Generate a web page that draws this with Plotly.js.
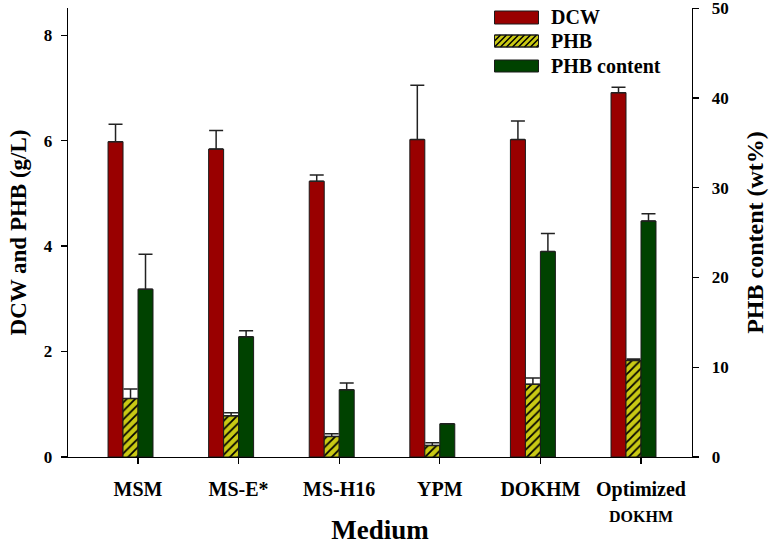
<!DOCTYPE html>
<html>
<head>
<meta charset="utf-8">
<script src="https://cdn.plot.ly/plotly-3.0.1.min.js"></script>
<style>
  html, body { margin: 0; padding: 0; background: #fff; }
  #chart { width: 772px; height: 545px; }
</style>
</head>
<body>
<div id="chart"></div>
<script>
// Culture media compared
const categories = ['MSM', 'MS-E*', 'MS-H16', 'YPM', 'DOKHM',
  'Optimized<br><span style="font-size:16px">DOKHM</span>'];

// Dry cell weight (g/L) and upper error
const dcw    = [5.98, 5.84, 5.23, 6.02, 6.02, 6.91];
const dcwErr = [0.33, 0.35, 0.12, 1.03, 0.35, 0.10];

// PHB concentration (g/L) and upper error
const phb    = [1.11, 0.78, 0.39, 0.22, 1.38, 1.83];
const phbErr = [0.18, 0.06, 0.05, 0.05, 0.12, 0.03];

// PHB content (wt%) and upper error
const content    = [18.7, 13.4, 7.5, 3.7, 22.9, 26.3];
const contentErr = [3.9, 0.67, 0.75, 0, 2.0, 0.8];

const leftTicks  = [0, 2, 4, 6, 8];
const rightTicks = [0, 10, 20, 30, 40, 50];

const FONT = 'Liberation Serif, Times New Roman, serif';
const RED = '#990000';
const OLIVE = '#c9c914';
const GREEN = '#004200';

// plot area in pixels
const M = { l: 68, r: 80, t: 8, b: 88 };
const W = 772 - M.l - M.r, H = 545 - M.t - M.b;
const px = x => (x - M.l) / W;
const py = y => (545 - M.b - y) / H;

const barW = 0.149;
const outline = { color: '#1a1a1a', width: 1 };
const err = (arr) => ({
  type: 'data', symmetric: false, array: arr,
  arrayminus: arr.map(() => 0),
  color: '#222', thickness: 1.5, width: 7
});

const traces = [
  {
    type: 'bar', name: 'DCW', x: categories, y: dcw,
    width: barW, offset: -2 * barW,
    marker: { color: RED, line: outline },
    error_y: err(dcwErr), yaxis: 'y', showlegend: false
  },
  {
    type: 'bar', name: 'PHB', x: categories, y: phb,
    width: barW, offset: -barW,
    marker: {
      color: OLIVE, line: outline,
      pattern: { shape: '/', fgcolor: '#000', bgcolor: OLIVE, size: 6, solidity: 0.3 }
    },
    error_y: err(phbErr), yaxis: 'y', showlegend: false
  },
  {
    type: 'bar', name: 'PHB content', x: categories, y: content,
    width: barW, offset: 0,
    marker: { color: GREEN, line: outline },
    error_y: err(contentErr), yaxis: 'y2', showlegend: false
  }
];

// Legend drawn as boxes + labels
const legendRows = [
  { label: 'DCW', color: RED, top: 11, bottom: 24 },
  { label: 'PHB', color: OLIVE, top: 35, bottom: 47, hatch: true },
  { label: 'PHB content', color: GREEN, top: 60, bottom: 72 }
];
const boxX0 = 494.5, boxX1 = 538.5;
const shapes = [];
const annotations = [];
legendRows.forEach(r => {
  shapes.push({
    type: 'rect', xref: 'paper', yref: 'paper',
    x0: px(boxX0), x1: px(boxX1), y0: py(r.bottom), y1: py(r.top),
    fillcolor: r.color, line: { color: '#1a1a1a', width: 1 }, layer: 'above'
  });
  if (r.hatch) {
    const w = boxX1 - boxX0, h = r.bottom - r.top;
    let d = '';
    for (let k = -h; k < w; k += 6) {
      const t0 = Math.max(0, -k), t1 = Math.min(h, w - k);
      if (t1 <= t0) continue;
      const xa = boxX0 + k + t0, ya = r.bottom - t0;
      const xb = boxX0 + k + t1, yb = r.bottom - t1;
      d += `M${px(xa)},${py(ya)}L${px(xb)},${py(yb)}`;
    }
    shapes.push({
      type: 'path', xref: 'paper', yref: 'paper', path: d,
      line: { color: '#000', width: 1.5 }, layer: 'above'
    });
    shapes.push({
      type: 'rect', xref: 'paper', yref: 'paper',
      x0: px(boxX0), x1: px(boxX1), y0: py(r.bottom), y1: py(r.top),
      fillcolor: 'rgba(0,0,0,0)', line: { color: '#1a1a1a', width: 1 }, layer: 'above'
    });
  }
  annotations.push({
    xref: 'paper', yref: 'paper', x: px(549), y: py((r.top + r.bottom) / 2),
    xanchor: 'left', yanchor: 'middle', showarrow: false,
    text: r.label, font: { family: FONT, size: 20, color: '#000', weight: 'bold' }
  });
});

const layout = {
  width: 772, height: 545,
  margin: M,
  paper_bgcolor: '#fff', plot_bgcolor: '#fff',
  font: { family: FONT, color: '#000' },
  showlegend: false,
  bargap: 0,
  xaxis: {
    type: 'category',
    range: [-0.696, 5.507],
    showline: true, linecolor: '#000', linewidth: 1.3,
    ticks: 'outside', ticklen: 6, tickwidth: 1.3, tickcolor: '#000',
    ticklabelstandoff: 8,
    tickfont: { family: FONT, size: 20, weight: 'bold', color: '#000' },
    showgrid: false, zeroline: false, automargin: false,
    title: { text: 'Medium', standoff: 8, font: { family: FONT, size: 27, weight: 'bold', color: '#000' } }
  },
  yaxis: {
    range: [0, 8.515],
    tickvals: leftTicks, ticktext: leftTicks.map(String),
    showline: true, linecolor: '#000', linewidth: 1.3,
    ticks: 'outside', ticklen: 6, tickwidth: 1.3, tickcolor: '#000',
    ticklabelstandoff: 5, ticklabeloverflow: 'allow',
    tickfont: { family: FONT, size: 17, weight: 'bold', color: '#000' },
    showgrid: false, zeroline: false, automargin: false,
    title: { text: 'DCW and PHB (g/L)', standoff: 10, font: { family: FONT, size: 23, weight: 'bold', color: '#000' } }
  },
  yaxis2: {
    overlaying: 'y', side: 'right', anchor: 'x',
    range: [0, 50.03],
    tickvals: rightTicks, ticktext: rightTicks.map(String),
    showline: true, linecolor: '#000', linewidth: 1.3,
    ticks: 'outside', ticklen: 6, tickwidth: 1.3, tickcolor: '#000',
    ticklabelstandoff: 9, ticklabeloverflow: 'allow',
    tickfont: { family: FONT, size: 17, weight: 'bold', color: '#000' },
    showgrid: false, zeroline: false, automargin: false,
    title: { text: 'PHB content (wt%)', standoff: 18, font: { family: FONT, size: 24, weight: 'bold', color: '#000' } }
  },
  shapes: shapes,
  annotations: annotations
};

Plotly.newPlot('chart', traces, layout, { displayModeBar: false, staticPlot: true });
</script>
</body>
</html>
